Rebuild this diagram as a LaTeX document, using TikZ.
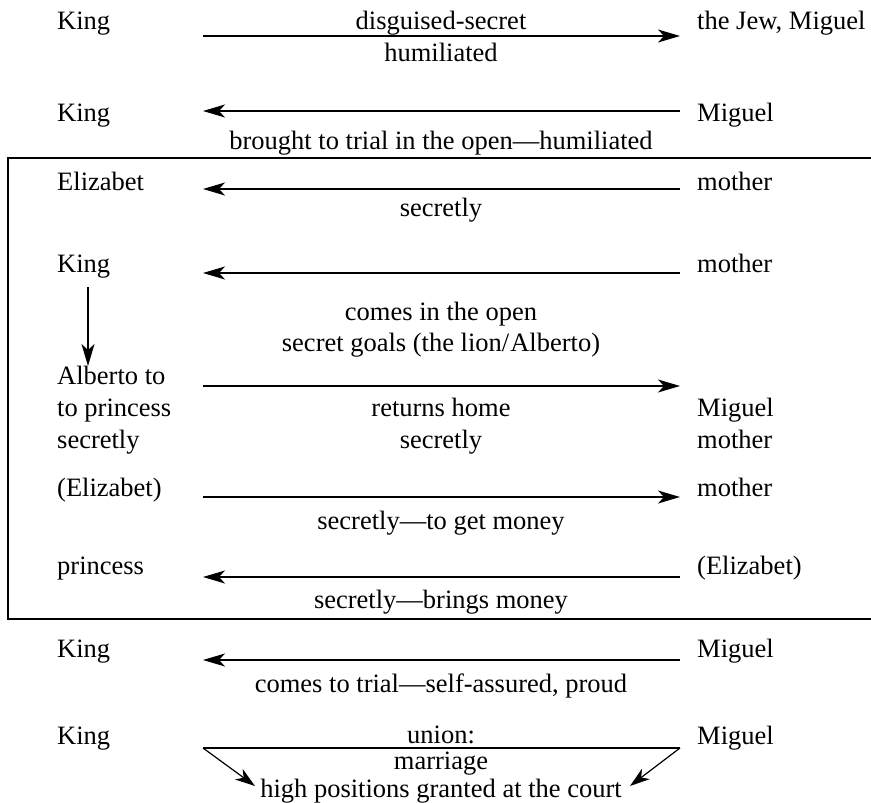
\documentclass[tikz,border=0pt]{standalone}
\usepackage{fontspec}
\setmainfont{Liberation Serif}
\usetikzlibrary{arrows.meta}
\begin{document}
\begin{tikzpicture}[x=1pt,y=-1pt,
  lab/.style={font=\fontsize{26.5}{32}\selectfont, inner sep=0pt},
  lname/.style={lab, anchor=base west},
  mid/.style={lab, anchor=base},
  plainline/.style={line width=1.2pt},
  conn/.style={line width=1.2pt, -{Stealth[length=22pt,width=13pt,inset=6pt]}},
  smallconn/.style={line width=1.2pt, -{Stealth[length=20pt,width=13pt,inset=6pt]}}]
\useasboundingbox (0,0) rectangle (871,803);

% frame
\draw[plainline] (872,158) -| (8,619) -- (872,619);

% row 1
\node[lname] (k1) at (57,30) {King};
\node[lname] (m1) at (697,30) {the Jew, Miguel};
\node[mid] (t1a) at (441,29) {disguised-secret};
\node[mid] (t1b) at (441,61) {humiliated};
\coordinate (a1s) at (203,36); \coordinate (a1e) at (680,36);
\draw[conn] (a1s) -- (a1e);

% row 2
\node[lname] (k2) at (57,121) {King};
\node[lname] (m2) at (697,121) {Miguel};
\node[mid] (t2) at (441,149) {brought to trial in the open---humiliated};
\coordinate (a2s) at (680,111); \coordinate (a2e) at (203,111);
\draw[conn] (a2s) -- (a2e);

% row 3
\node[lname] (e3) at (57,190) {Elizabet};
\node[lname] (m3) at (697,190) {mother};
\node[mid] (t3) at (441,216) {secretly};
\coordinate (a3s) at (680,189); \coordinate (a3e) at (203,189);
\draw[conn] (a3s) -- (a3e);

% row 4
\node[lname] (k4) at (57,272) {King};
\node[lname] (m4) at (697,272) {mother};
\node[mid] (t4a) at (441,320) {comes in the open};
\node[mid] (t4b) at (441,351) {secret goals (the lion/\kern1pt Alberto)};
\coordinate (a4s) at (680,273); \coordinate (a4e) at (203,273);
\draw[conn] (a4s) -- (a4e);

% row 5
\node[lname] (l5a) at (57,384) {Alberto to};
\node[lname] (l5b) at (57,416) {to princess};
\node[lname] (l5c) at (57,448) {secretly};
\node[mid] (t5a) at (441,416) {returns home};
\node[mid] (t5b) at (441,448) {secretly};
\node[lname] (r5a) at (697,416) {Miguel};
\node[lname] (r5b) at (697,448) {mother};
\coordinate (a5s) at (203,386); \coordinate (a5e) at (680,386);
\draw[conn] (a5s) -- (a5e);
\coordinate (v4s) at (88,287); \coordinate (v4e) at (88,366);
\draw[conn] (v4s) -- (v4e);

% row 6
\node[lname] (e6) at (57,496) {(Elizabet)};
\node[lname] (m6) at (697,496) {mother};
\node[mid] (t6) at (441,529) {secretly---to get money};
\coordinate (a6s) at (203,497); \coordinate (a6e) at (680,497);
\draw[conn] (a6s) -- (a6e);

% row 7
\node[lname] (p7) at (57,574) {princess};
\node[lname] (e7) at (697,574) {(Elizabet)};
\node[mid] (t7) at (441,608) {secretly---brings money};
\coordinate (a7s) at (680,577); \coordinate (a7e) at (203,577);
\draw[conn] (a7s) -- (a7e);

% row 8
\node[lname] (k8) at (57,657) {King};
\node[lname] (m8) at (697,657) {Miguel};
\node[mid] (t8) at (441,692) {comes to trial---self-assured, proud};
\coordinate (a8s) at (680,660); \coordinate (a8e) at (203,660);
\draw[conn] (a8s) -- (a8e);

% row 9
\node[lname] (k9) at (57,744) {King};
\node[lname] (m9) at (697,744) {Miguel};
\node[mid] (t9a) at (441,743) {union:};
\node[mid] (t9b) at (441,769) {marriage};
\node[mid] (t9c) at (441,797) {high positions granted at the court};
\coordinate (u1) at (203,748); \coordinate (u2) at (680,748);
\coordinate (u3) at (255,786); \coordinate (u4) at (630,786);
\draw[plainline] (u1) -- (u2);
\draw[smallconn] (u1) -- (u3);
\draw[smallconn] (u2) -- (u4);
\end{tikzpicture}
\end{document}
